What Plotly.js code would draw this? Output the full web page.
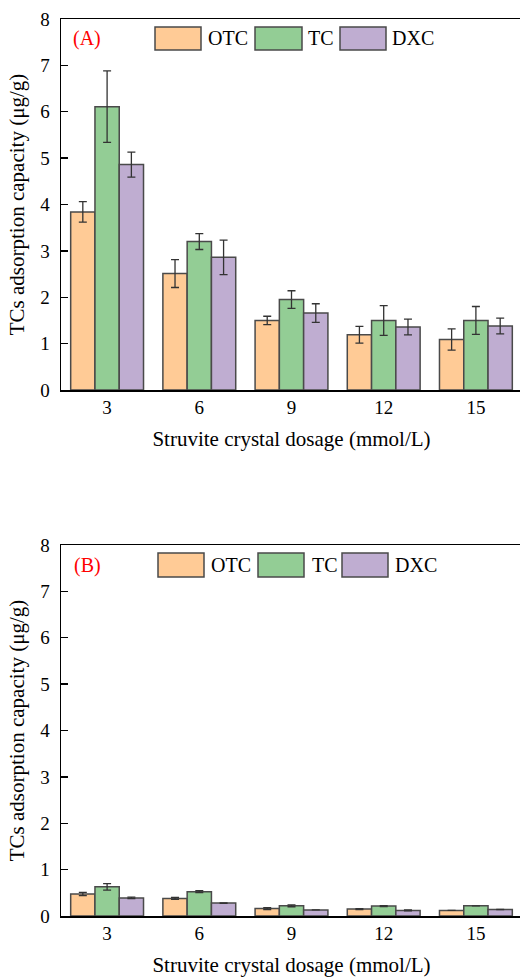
<!DOCTYPE html>
<html>
<head>
<meta charset="utf-8">
<script src="https://cdn.plot.ly/plotly-3.0.1.min.js"></script>
<style>
  html, body { margin: 0; padding: 0; background: #fff; overflow: hidden; }
  #chart { width: 522px; height: 977px; }
</style>
</head>
<body>
<div id="chart"></div>
<script>
// Struvite dosage (mmol/L)
const dosage = [3, 6, 9, 12, 15];
const seriesNames = ['OTC', 'TC', 'DXC'];
const seriesColors = ['#FFCB96', '#93CD95', '#BFADD1'];

// Panel A: adsorption capacity (µg/g) and standard deviations
const otcA = [3.84, 2.51, 1.50, 1.19, 1.09];
const otcAErr = [0.22, 0.30, 0.09, 0.18, 0.23];
const tcA = [6.11, 3.20, 1.95, 1.50, 1.50];
const tcAErr = [0.77, 0.17, 0.19, 0.32, 0.30];
const dxcA = [4.86, 2.86, 1.66, 1.36, 1.38];
const dxcAErr = [0.27, 0.37, 0.20, 0.17, 0.17];

// Panel B
const otcB = [0.475, 0.38, 0.16, 0.15, 0.12];
const otcBErr = [0.035, 0.02, 0.02, 0.01, 0.0];
const tcB = [0.63, 0.525, 0.22, 0.215, 0.22];
const tcBErr = [0.07, 0.02, 0.02, 0.01, 0.0];
const dxcB = [0.39, 0.28, 0.13, 0.12, 0.14];
const dxcBErr = [0.015, 0.005, 0.0, 0.01, 0.0];

const FONT = 'Liberation Serif, Times New Roman, serif';

function barTrace(name, color, y, err, xa, ya) {
  return {
    type: 'bar', name: name, x: dosage, y: y,
    xaxis: xa, yaxis: ya,
    marker: { color: color, line: { color: '#4a4a4a', width: 1.5 } },
    error_y: { type: 'data', array: err, visible: true, color: '#333', thickness: 1.3, width: 4 },
    showlegend: false
  };
}

const traces = [
  barTrace('OTC', seriesColors[0], otcA, otcAErr, 'x', 'y'),
  barTrace('TC', seriesColors[1], tcA, tcAErr, 'x', 'y'),
  barTrace('DXC', seriesColors[2], dxcA, dxcAErr, 'x', 'y'),
  barTrace('OTC', seriesColors[0], otcB, otcBErr, 'x2', 'y2'),
  barTrace('TC', seriesColors[1], tcB, tcBErr, 'x2', 'y2'),
  barTrace('DXC', seriesColors[2], dxcB, dxcBErr, 'x2', 'y2')
];

const W = 522, H = 977;
const M = { l: 61, r: 0, t: 19, b: 61 };
const plotW = W - M.l - M.r, plotH = H - M.t - M.b;
// pixel -> paper helpers for the in-plot legend
const px = v => (v - M.l) / plotW;
const py = v => (H - M.b - v) / plotH;

const xCommon = {
  range: [1.5, 16.5], tickvals: dosage, ticktext: dosage.map(String),
  ticks: '', showline: true, linecolor: '#000', linewidth: 1.5, mirror: true,
  showgrid: false, zeroline: false,
  tickfont: { family: FONT, size: 19, color: '#000' },
  title: { text: 'Struvite crystal dosage (mmol/L)', font: { family: FONT, size: 21, color: '#000' }, standoff: 14 }
};
const yCommon = {
  range: [0, 8], dtick: 1, ticks: 'inside', ticklen: 7, tickwidth: 1.3, tickcolor: '#000',
  showline: true, linecolor: '#000', linewidth: 1.5, mirror: false,
  showgrid: false, zeroline: false,
  tickfont: { family: FONT, size: 19, color: '#000' },
  ticklabelstandoff: 6,
  title: { text: 'TCs adsorption capacity (μg/g)', font: { family: FONT, size: 21, color: '#000' }, standoff: 10 }
};

const shapes = [];
const annotations = [];

// legend boxes and labels for each panel
function addLegend(boxes, textX, yTop, yBot, label, labelX) {
  boxes.forEach((b, i) => {
    shapes.push({
      type: 'rect', xref: 'paper', yref: 'paper',
      x0: px(b[0]), x1: px(b[1]), y0: py(yBot), y1: py(yTop),
      fillcolor: seriesColors[i], line: { color: '#4a4a4a', width: 1.5 }
    });
    annotations.push({
      xref: 'paper', yref: 'paper', x: px(textX[i]), y: py((yTop + yBot) / 2),
      xanchor: 'left', yanchor: 'middle', showarrow: false,
      text: seriesNames[i], font: { family: FONT, size: 20, color: '#000' }
    });
  });
  annotations.push({
    xref: 'paper', yref: 'paper', x: px(labelX), y: py((yTop + yBot) / 2),
    xanchor: 'left', yanchor: 'middle', showarrow: false,
    text: label, font: { family: FONT, size: 20, color: '#ff0000' }
  });
}
addLegend([[155, 201], [255, 302], [340, 386]], [206, 306, 390], 27, 50, '(A)', 71);
addLegend([[158, 204], [258, 304], [342, 388]], [209, 310, 393], 553, 577, '(B)', 72);

const layout = {
  width: W, height: H,
  margin: M,
  paper_bgcolor: '#fff', plot_bgcolor: '#fff',
  barmode: 'group', bargap: 0.21, bargroupgap: 0,
  xaxis: Object.assign({}, xCommon, { anchor: 'y', domain: [0, 1] }),
  yaxis: Object.assign({}, yCommon, { anchor: 'x', domain: [py(390), 1] }),
  xaxis2: Object.assign({}, xCommon, { anchor: 'y2', domain: [0, 1] }),
  yaxis2: Object.assign({}, yCommon, { anchor: 'x2', domain: [0, py(545)] }),
  shapes: shapes,
  annotations: annotations
};

Plotly.newPlot('chart', traces, layout, { staticPlot: true, displayModeBar: false });
</script>
</body>
</html>
